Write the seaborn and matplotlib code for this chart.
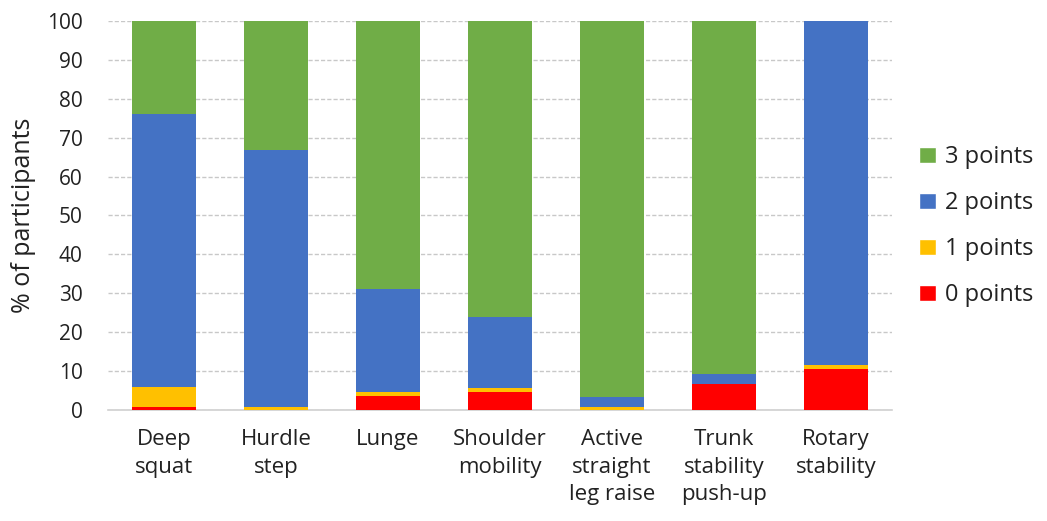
import matplotlib
matplotlib.use("Agg")
import matplotlib.pyplot as plt
import seaborn as sns
import numpy as np
import pandas as pd
from matplotlib.patches import Patch

categories = ["Deep\nsquat", "Hurdle\nstep", "Lunge", "Shoulder\nmobility",
              "Active\nstraight\nleg raise", "Trunk\nstability\npush-up", "Rotary\nstability"]
pts0 = [0.8, 0.0, 3.5, 4.6, 0.0, 6.7, 10.5]
pts1 = [5.1, 0.8, 1.2, 1.1, 0.9, 0.0, 1.1]
pts2 = [70.1, 66.0, 26.3, 18.3, 2.5, 2.5, 88.4]
pts3 = [24.0, 33.2, 69.0, 76.0, 96.6, 90.8, 0.0]

series_names = ["0 points", "1 points", "2 points", "3 points"]
colors = ["#FF0000", "#FFC000", "#4472C4", "#70AD47"]

sns.set_theme(style="white")
plt.rcParams["font.family"] = ["Open Sans", "DejaVu Sans"]

fig = plt.figure(figsize=(10.47, 5.21), dpi=100)
ax = fig.add_axes([0.103, 0.213, 0.749, 0.747])

layers = np.array([pts0, pts1, pts2, pts3])
cum = np.cumsum(layers, axis=0)
# draw tallest cumulative layer first so lower segments sit on top
for i in range(3, -1, -1):
    df = pd.DataFrame({"cat": categories, "val": cum[i]})
    sns.barplot(data=df, x="cat", y="val", color=colors[i], width=0.57,
                saturation=1, linewidth=0, ax=ax, zorder=3)

ax.set_ylim(0, 100)
ax.set_xlim(-0.5, len(categories) - 0.5)
ax.set_yticks(range(0, 101, 10))
ax.yaxis.grid(True, linestyle=(0, (3, 1.5)), color="#c8c8c8", linewidth=1, zorder=0)
ax.set_axisbelow(True)
for s in ["top", "right", "left"]:
    ax.spines[s].set_visible(False)
ax.spines["bottom"].set_color("#d0d0d0")
ax.spines["bottom"].set_linewidth(1.2)
ax.tick_params(axis="y", length=0, labelsize=15, colors="#222222", pad=18)
ax.tick_params(axis="x", length=0, labelsize=16, colors="#222222", pad=14)
for lbl in ax.get_xticklabels():
    lbl.set_linespacing(1.38)
ax.set_xlabel("")
ax.set_ylabel("% of participants", fontsize=18, color="#222222", labelpad=8)

handles = [Patch(facecolor=colors[i], label=series_names[i]) for i in range(3, -1, -1)]
fig.legend(handles=handles, loc="center left", bbox_to_anchor=(919 / 1047, 0.566),
           frameon=False, fontsize=17, handlelength=0.7, handleheight=0.7,
           labelspacing=0.93, handletextpad=0.4, borderpad=0, borderaxespad=0,
           labelcolor="#222222")

fig.savefig("out.png", dpi=100)
